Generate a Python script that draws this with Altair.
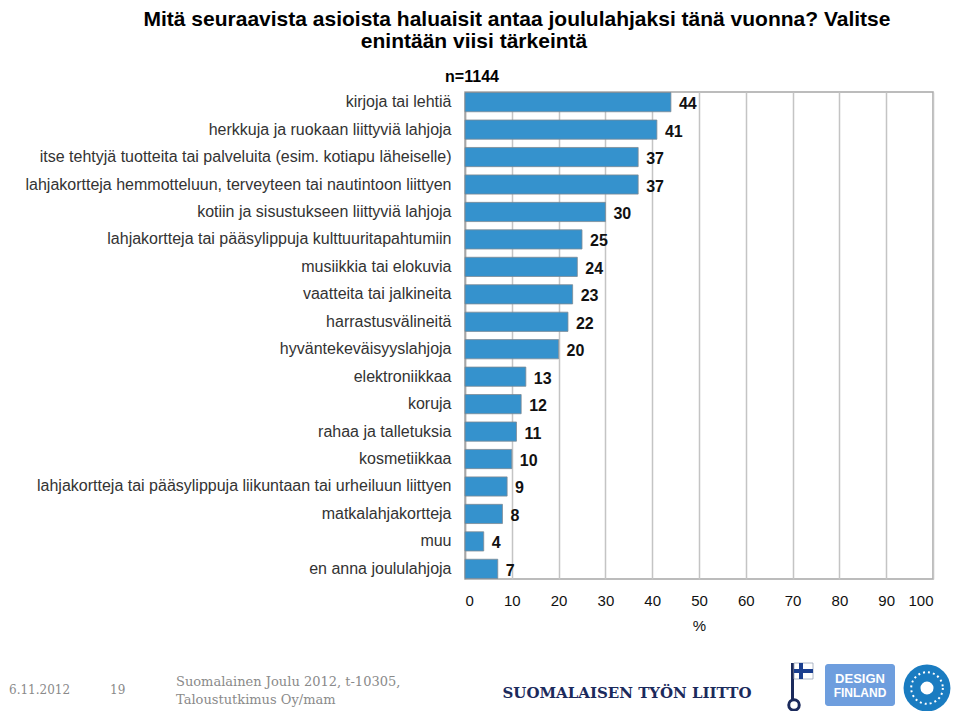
import altair as alt
import pandas as pd

categories = [
    "kirjoja tai lehtiä",
    "herkkuja ja ruokaan liittyviä lahjoja",
    "itse tehtyjä tuotteita tai palveluita (esim. kotiapu läheiselle)",
    "lahjakortteja hemmotteluun, terveyteen tai nautintoon liittyen",
    "kotiin ja sisustukseen liittyviä lahjoja",
    "lahjakortteja tai pääsylippuja kulttuuritapahtumiin",
    "musiikkia tai elokuvia",
    "vaatteita tai jalkineita",
    "harrastusvälineitä",
    "hyväntekeväisyyslahjoja",
    "elektroniikkaa",
    "koruja",
    "rahaa ja talletuksia",
    "kosmetiikkaa",
    "lahjakortteja tai pääsylippuja liikuntaan tai urheiluun liittyen",
    "matkalahjakortteja",
    "muu",
    "en anna joululahjoja",
]
values = [44, 41, 37, 37, 30, 25, 24, 23, 22, 20, 13, 12, 11, 10, 9, 8, 4, 7]
x_ticks = [0, 10, 20, 30, 40, 50, 60, 70, 80, 90, 100]

title_line1 = "Mitä seuraavista asioista haluaisit antaa joululahjaksi tänä vuonna? Valitse"
title_line2 = "enintään viisi tärkeintä"
n_label = "n=1144"
footer_date = "6.11.2012"
footer_page = "19"
footer_src1 = "Suomalainen Joulu 2012, t-10305,"
footer_src2 = "Taloustutkimus Oy/mam"
footer_org = "SUOMALAISEN TYÖN LIITTO"
logo_line1 = "DESIGN"
logo_line2 = "FINLAND"

df = pd.DataFrame({"cat": categories, "val": values})

SANS = "Liberation Sans, Arial, Helvetica, sans-serif"
SERIF = "DejaVu Serif, Liberation Serif, Georgia, serif"

y_enc = alt.Y(
    "cat:N",
    sort=None,
    scale=alt.Scale(paddingInner=0.3, paddingOuter=0.02),
    axis=alt.Axis(
        title=None,
        ticks=False,
        labelFont=SANS,
        labelFontSize=16,
        labelColor="#333333",
        labelPadding=14,
        labelLimit=500,
        domainColor="#a6a6a6",
        domainWidth=1.5,
        grid=False,
    ),
)
x_enc = alt.X(
    "val:Q",
    scale=alt.Scale(domain=[0, 100], nice=False),
    axis=alt.Axis(
        values=x_ticks,
        title="%",
        titleFont=SANS,
        titleFontSize=15,
        titleFontWeight="normal",
        titleColor="#111111",
        titlePadding=10,
        labelFont=SANS,
        labelFontSize=15,
        labelColor="#111111",
        labelPadding=14,
        ticks=False,
        domain=False,
        grid=True,
        gridColor="#c4c4c4",
        gridWidth=1.5,
    ),
)

bars = alt.Chart(df).mark_bar(
    color="#3592cd", stroke="#7d8a94", strokeWidth=0.8
).encode(x=x_enc, y=y_enc)

labels = alt.Chart(df).mark_text(
    align="left", baseline="middle", dx=8, dy=2,
    font=SANS, fontSize=16, fontWeight="bold", color="#111111"
).encode(x="val:Q", y=alt.Y("cat:N", sort=None), text="val:Q")

one = pd.DataFrame({"k": [0]})


def note(text, x, y, **kw):
    return alt.Chart(pd.DataFrame({"t": [text]})).mark_text(**kw).encode(
        text="t:N", x=alt.value(x), y=alt.value(y)
    )


def box(x1, x2, y1, y2, **kw):
    return alt.Chart(one).mark_rect(**kw).encode(
        x=alt.value(x1), x2=alt.value(x2), y=alt.value(y1), y2=alt.value(y2)
    )


def dot(x, y, **kw):
    return alt.Chart(one).mark_point(**kw).encode(x=alt.value(x), y=alt.value(y))


t1 = note(title_line1, 52, -72, align="center", baseline="middle",
          font=SANS, fontSize=21, fontWeight="bold", color="#000000")
t2 = note(title_line2, 9, -50, align="center", baseline="middle",
          font=SANS, fontSize=21, fontWeight="bold", color="#000000")
tn = note(n_label, 7, -15, align="center", baseline="middle",
          font=SANS, fontSize=16, fontWeight="bold", color="#000000")
f1 = note(footer_date, -456, 598, align="left", baseline="middle",
          font=SERIF, fontSize=12, color="#8a8a8a")
f2 = note(footer_page, -355, 598, align="left", baseline="middle",
          font=SERIF, fontSize=12, color="#8a8a8a")
f3 = note(footer_src1, -289, 590, align="left", baseline="middle",
          font=SERIF, fontSize=13, color="#8a8a8a")
f4 = note(footer_src2, -289, 608, align="left", baseline="middle",
          font=SERIF, fontSize=13, color="#8a8a8a")
f5 = note(footer_org, 162, 601, align="center", baseline="middle",
          font=SERIF, fontSize=15, fontWeight="bold", color="#1b2a5c")

# simple logo approximations
NAVY = "#1b2a5c"
key_stem = box(326, 329, 571, 608, color=NAVY)
key_ring = dot(329, 613, shape="circle", size=110, filled=False,
               stroke=NAVY, strokeWidth=3, opacity=1)
flag = box(329, 348, 571, 587, fill="white", stroke="#9aa4b8", strokeWidth=0.8)
flag_h = box(329, 348, 577, 581, color="#1b3f8f")
flag_v = box(334, 338, 571, 587, color="#1b3f8f")
design_bg = box(360, 430, 572, 614, color="#6e9ede", cornerRadius=3)
design1 = note(logo_line1, 395, 587, align="center", baseline="middle",
               font=SANS, fontSize=13, fontWeight="bold", color="white")
design2 = note(logo_line2, 395, 601, align="center", baseline="middle",
               font=SANS, fontSize=12, fontWeight="bold", color="white")
emblem = dot(462, 596, shape="circle", size=2200, filled=True,
             color="#1a7cc1", opacity=1)
emblem_ring = dot(462, 596, shape="circle", size=1000, filled=False,
                  stroke="white", strokeWidth=2, strokeDash=[2, 3], opacity=1)
emblem_hole = dot(462, 596, shape="circle", size=170, filled=True,
                  color="white", opacity=1)

chart = alt.layer(
    bars, labels, t1, t2, tn, f1, f2, f3, f4, f5,
    key_stem, key_ring, flag, flag_h, flag_v, design_bg, design1, design2,
    emblem, emblem_ring, emblem_hole,
).properties(
    width=468,
    height=487,
    padding={"left": 457, "top": 84, "right": 19, "bottom": 132},
    autosize=alt.AutoSizeParams(type="none"),
    background="white",
).configure_view(stroke="#a6a6a6", strokeWidth=1.5)

chart.save("out.html", embed_options={"renderer": "svg", "actions": False})
